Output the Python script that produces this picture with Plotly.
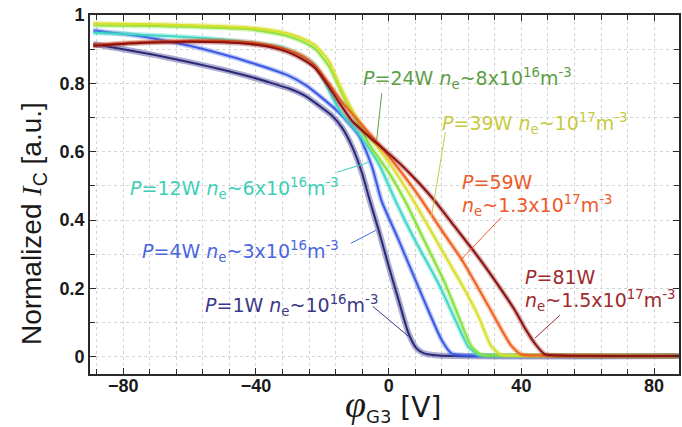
import plotly.graph_objects as go

# ---------------- data ----------------
v_1w = [-89, -80, -70, -60, -50, -42, -35, -30, -25, -21, -17, -14, -11, -8, -5.7, -3, 0, 3, 6, 8.4, 10.5, 15, 87.5]
i_1w = [0.915, 0.90, 0.882, 0.862, 0.84, 0.82, 0.80, 0.785, 0.763, 0.735, 0.705, 0.67, 0.615, 0.537, 0.458, 0.37, 0.266, 0.166, 0.069, 0.025, 0.011, 0.004, 0.003]

v_4w = [-89, -80, -70, -60, -50, -42, -35, -30, -25, -21, -15, -9, -5, -2.2, 3, 8.5, 12, 16, 19, 24, 87.5]
i_4w = [0.955, 0.945, 0.93, 0.91, 0.885, 0.862, 0.84, 0.822, 0.795, 0.765, 0.715, 0.648, 0.556, 0.458, 0.342, 0.215, 0.135, 0.049, 0.010, 0.004, 0.003]

v_12w = [-89, -80, -70, -60, -50, -40, -32, -26, -22, -19, -17, -14, -9, -3, 2, 8, 15, 20, 24, 27, 32, 87.5]
i_12w = [0.947, 0.945, 0.94, 0.935, 0.928, 0.918, 0.905, 0.88, 0.852, 0.80, 0.76, 0.71, 0.653, 0.565, 0.458, 0.34, 0.215, 0.11, 0.03, 0.006, 0.004, 0.003]

v_24w = [-89, -70, -50, -42, -35, -30, -25, -22, -18, -15, -12, -9, -6, 0, 5, 11, 17, 21, 25, 28, 33, 87.5]
i_24w = [0.97, 0.968, 0.962, 0.958, 0.948, 0.937, 0.918, 0.9, 0.85, 0.79, 0.73, 0.68, 0.624, 0.54, 0.455, 0.335, 0.215, 0.12, 0.03, 0.006, 0.004, 0.003]

v_39w = [-89, -70, -50, -42, -35, -30, -25, -22, -18, -15, -12, -9, -5, 0, 7, 15, 23, 27, 31, 34, 38, 87.5]
i_39w = [0.975, 0.973, 0.967, 0.963, 0.955, 0.945, 0.927, 0.91, 0.865, 0.80, 0.74, 0.69, 0.635, 0.57, 0.465, 0.33, 0.195, 0.12, 0.03, 0.006, 0.004, 0.003]

v_59w = [-89, -75, -60, -50, -42, -35, -30, -25, -22, -18, -14, -10, -5, 0, 5, 10, 16, 22, 30, 34, 37, 40, 45, 87.5]
i_59w = [0.912, 0.92, 0.925, 0.925, 0.92, 0.91, 0.897, 0.875, 0.85, 0.80, 0.745, 0.70, 0.645, 0.587, 0.525, 0.458, 0.37, 0.285, 0.15, 0.08, 0.032, 0.007, 0.004, 0.003]

v_81w = [-89, -75, -60, -50, -42, -35, -30, -25, -22, -18, -15, -11, -6, -1, 4, 9, 14, 20, 27, 33, 38, 41, 44, 47, 52, 87.5]
i_81w = [0.91, 0.918, 0.922, 0.92, 0.915, 0.905, 0.89, 0.865, 0.843, 0.79, 0.745, 0.69, 0.645, 0.604, 0.56, 0.51, 0.455, 0.38, 0.292, 0.21, 0.137, 0.085, 0.04, 0.008, 0.004, 0.003]

series_names = ["P=1W", "P=4W", "P=12W", "P=24W", "P=39W", "P=59W", "P=81W"]
series_v = [v_1w, v_4w, v_12w, v_24w, v_39w, v_59w, v_81w]
series_i = [i_1w, i_4w, i_12w, i_24w, i_39w, i_59w, i_81w]
line_colors = ["#2c2878", "#3a5ae6", "#3fd8c6", "#86e23a", "#d8e02a", "#f2601e", "#8c1010"]
band_colors = ["rgba(70,70,150,0.45)", "rgba(70,100,230,0.35)", "rgba(70,215,200,0.35)",
               "rgba(140,225,70,0.35)", "rgba(215,220,60,0.35)", "rgba(240,110,50,0.35)",
               "rgba(140,30,30,0.35)"]
band_widths = [6, 5, 5, 5, 5, 5, 5]

label_texts = [
    "<i>P</i>=1W <i>n</i><sub>e</sub>~10<sup>16</sup>m<sup>-3</sup>",
    "<i>P</i>=4W <i>n</i><sub>e</sub>~3x10<sup>16</sup>m<sup>-3</sup>",
    "<i>P</i>=12W <i>n</i><sub>e</sub>~6x10<sup>16</sup>m<sup>-3</sup>",
    "<i>P</i>=24W <i>n</i><sub>e</sub>~8x10<sup>16</sup>m<sup>-3</sup>",
    "<i>P</i>=39W <i>n</i><sub>e</sub>~10<sup>17</sup>m<sup>-3</sup>",
    "<i>P</i>=59W",
    "<i>P</i>=81W",
]
label_texts2 = [None, None, None, None, None,
                "<i>n</i><sub>e</sub>~1.3x10<sup>17</sup>m<sup>-3</sup>",
                "<i>n</i><sub>e</sub>~1.5x10<sup>17</sup>m<sup>-3</sup>"]
label_colors = ["#3b3888", "#4a66e2", "#3ccfb8", "#5e9e46", "#c8ca3e", "#ee5a2a", "#9e2a2e"]
label_x = [-56.0, -74.9, -78.5, -8.4, 15.6, 21.6, 40.4]
label_y = [0.151, 0.308, 0.493, 0.815, 0.682, 0.511, 0.233]
label_y2 = [None, None, None, None, None, 0.444, 0.166]
leader_x0 = [-4.8, -11.4, -15.6, -2.1, 17.1, 33.9, 51.6]
leader_y0 = [0.148, 0.332, 0.540, 0.771, 0.657, 0.408, 0.122]
leader_x1 = [6.0, -3.9, -6.0, -3.6, 12.9, 21.6, 44.1]
leader_y1 = [0.060, 0.370, 0.569, 0.634, 0.411, 0.282, 0.055]

x_range = [-90, 87.5]
y_range = [-0.05, 1.0]

# ---------------- figure ----------------
fig = go.Figure()
for k in range(len(series_names)):
    fig.add_trace(go.Scatter(
        x=series_v[k], y=series_i[k], mode="lines",
        line=dict(color=band_colors[k], width=band_widths[k], shape="spline", smoothing=0.6),
        hoverinfo="skip", showlegend=False))
    fig.add_trace(go.Scatter(
        x=series_v[k], y=series_i[k], mode="lines", name=series_names[k],
        line=dict(color=line_colors[k], width=2, shape="spline", smoothing=0.6),
        showlegend=False))

ann_font = dict(family="DejaVu Sans", size=19)
for k in range(len(series_names)):
    fig.add_annotation(x=label_x[k], y=label_y[k], xref="x", yref="y", text=label_texts[k],
                       showarrow=False, xanchor="left", yanchor="middle",
                       font=dict(color=label_colors[k], **ann_font))
    if label_texts2[k]:
        fig.add_annotation(x=label_x[k], y=label_y2[k], xref="x", yref="y", text=label_texts2[k],
                           showarrow=False, xanchor="left", yanchor="middle",
                           font=dict(color=label_colors[k], **ann_font))
    fig.add_shape(type="line", xref="x", yref="y",
                  x0=leader_x0[k], y0=leader_y0[k], x1=leader_x1[k], y1=leader_y1[k],
                  line=dict(color=label_colors[k], width=1))

# axis titles
fig.add_annotation(
    xref="paper", yref="paper", x=-0.097, y=0.42, textangle=-90, showarrow=False,
    xanchor="center", yanchor="middle",
    text="Normalized <span style='font-family:Liberation Serif'><i>I</i></span><sub>C</sub> [a.u.]",
    font=dict(family="Liberation Sans", size=28, color="#1a1a1a"))
fig.add_annotation(
    xref="paper", yref="paper", x=0.514, y=-0.085, showarrow=False,
    xanchor="center", yanchor="middle",
    text="<span style='font-family:Liberation Serif;font-size:38px'><i>φ</i></span>"
         "<sub><span style='font-size:18px'>G3</span></sub> [V]",
    font=dict(family="DejaVu Sans", size=28, color="#1a1a1a"))

axis_common = dict(
    showline=True, linecolor="#2a2a2a", linewidth=1.6, mirror="ticks",
    ticks="inside", ticklen=6, tickwidth=1.2, tickcolor="#2a2a2a",
    showgrid=True, gridcolor="#d4d4d4", griddash="dot", gridwidth=1,
    zeroline=False,
    tickfont=dict(family="Liberation Sans", size=18, color="#1a1a1a", weight="bold"),
)
fig.update_xaxes(range=x_range, tick0=0, dtick=40, ticklabelstandoff=-5,
                 minor=dict(tick0=0, dtick=8, ticks="inside", ticklen=5, tickcolor="#2a2a2a",
                            showgrid=True, gridcolor="#d4d4d4", griddash="dot", gridwidth=1),
                 **axis_common)
fig.update_yaxes(range=y_range, tick0=0, dtick=0.2,
                 minor=dict(tick0=0, dtick=0.1, ticks="inside", ticklen=5, tickcolor="#2a2a2a",
                            showgrid=True, gridcolor="#d4d4d4", griddash="dot", gridwidth=1),
                 **axis_common)

fig.update_layout(
    width=682, height=427,
    margin=dict(l=90, r=1, t=15, b=53),
    paper_bgcolor="white", plot_bgcolor="white",
    showlegend=False,
)

fig.write_html("out.html", config={"displayModeBar": False},
               post_script="document.body.style.margin='0';document.body.style.overflow='hidden';")
